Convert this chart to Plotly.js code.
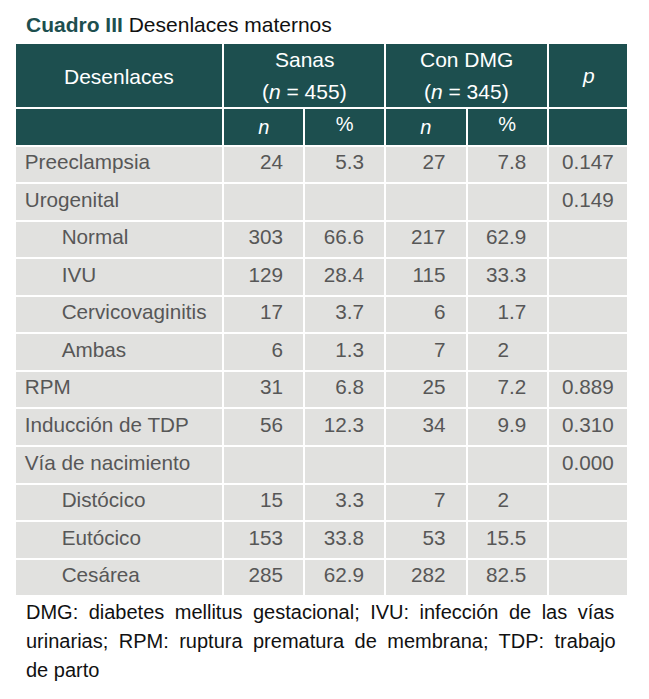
<!DOCTYPE html>
<html><head><meta charset="utf-8">
<script src="https://cdn.plot.ly/plotly-3.0.1.min.js"></script>
<style>html,body{margin:0;padding:0;background:#fff}</style>
</head><body><div id="chart" style="width:649px;height:699px"></div>
<script>
// ---- data ----
const rowLabels = ["Preeclampsia","Urogenital","Normal","IVU","Cervicovaginitis","Ambas","RPM","Inducción de TDP","Vía de nacimiento","Distócico","Eutócico","Cesárea"];
const rowLevel  = [0,0,1,1,1,1,0,0,0,1,1,1];
const groups    = ["Sanas","Con DMG"];
const groupN    = [455,345];
const sanasN    = [24,null,303,129,17,6,31,56,null,15,153,285];
const sanasPct  = [5.3,null,66.6,28.4,3.7,1.3,6.8,12.3,null,3.3,33.8,62.9];
const dmgN      = [27,null,217,115,6,7,25,34,null,7,53,282];
const dmgPct    = [7.8,null,62.9,33.3,1.7,2,7.2,9.9,null,2,15.5,82.5];
const pValues   = [0.147,0.149,null,null,null,null,0.889,0.310,0.000,null,null,null];
const subHeads  = ["", "<i>n</i>", "%", "<i>n</i>", "%", ""];
const title1 = "Cuadro III", title2 = "Desenlaces maternos";
const footLines = [
  "DMG: diabetes mellitus gestacional; IVU: infección de las vías",
  "urinarias; RPM: ruptura prematura de membrana; TDP: trabajo",
  "de parto"
];

// ---- styling / layout helpers ----
const W = 649, H = 699;
const FONT = "Liberation Sans, Arial, sans-serif";
const TEAL = "#1d4f4f", BODY = "#e1e1df", TXT = "#575757";
const X = v => v / W, Y = v => 1 - v / H;
const NB = "\u00a0", HAIR = "\u200a", THIN = "\u2009";
const padR = NB + NB + HAIR;
const numCell = v => v == null ? "" : String(v) + padR;
const pctCell = v => v == null ? "" : (Number.isInteger(v) ? String(v) + NB + NB + NB : String(v)) + padR;

const labelCol = rowLabels.map((s, i) => (rowLevel[i] ? NB.repeat(6) + THIN : HAIR) + s);
const pCol = pValues.map(v => v == null ? "" : v.toFixed(3));

const left = 15, right = 628.5;
const topHead = {
  type: "table",
  domain: {x: [X(left), X(right)], y: [Y(160), Y(42.5)]},
  columnwidth: [208.5, 162, 162.5, 80.5],
  header: {values: [" ", " ", " ", " "], height: 65, fill: {color: TEAL}, line: {color: "#ffffff", width: 2},
           font: {family: FONT, size: 20, color: TEAL}},
  cells: {values: [[" "], [" "], [" "], [" "]], height: 30, fill: {color: "rgba(255,255,255,0)"},
          line: {color: "rgba(255,255,255,0)", width: 1}, font: {family: FONT, size: 12, color: "rgba(0,0,0,0)"}}
};
const body = {
  type: "table",
  domain: {x: [X(left), X(right)], y: [0, Y(107.5)]},
  columnwidth: [208.5, 81, 81, 81.5, 81, 80.5],
  header: {
    values: subHeads, height: 35.5, align: "center",
    fill: {color: TEAL}, line: {color: "#ffffff", width: 2},
    font: {family: FONT, size: 20, color: "#ffffff"}
  },
  cells: {
    values: [labelCol, sanasN.map(numCell), sanasPct.map(pctCell), dmgN.map(numCell), dmgPct.map(pctCell), pCol],
    height: 37.56,
    align: ["left", "right", "right", "right", "right", "center"],
    fill: {color: BODY}, line: {color: "#ffffff", width: 2},
    font: {family: FONT, size: 20.7, color: TXT}
  }
};

const ann = (text, x, y, opts) => Object.assign({
  text, xref: "paper", yref: "paper", x: X(x), y: Y(y), xanchor: "center", yanchor: "middle",
  showarrow: false, font: {family: FONT, size: 21, color: "#ffffff"}
}, opts || {});

const colMid = [ (15 + 223.5) / 2, (223.5 + 385.5) / 2, (385.5 + 548) / 2, (548 + 628.5) / 2 ];
const annotations = [
  ann(`<b><span style="color:${TEAL}">${title1}</span></b> ${title2}`, 24, 24, {xanchor: "left", font: {family: FONT, size: 21, color: "#111111"}}),
  ann("Desenlaces", colMid[0], 76),
  ann(groups[0], colMid[1], 60),
  ann(`(<i>n</i> = ${groupN[0]})`, colMid[1], 91),
  ann(groups[1], colMid[2], 60),
  ann(`(<i>n</i> = ${groupN[1]})`, colMid[2], 91),
  ann("<i>p</i>", colMid[3], 75.4),
];
const footY = [612, 641, 670];
const wordSp = [4.9, 4.9, 0];
footLines.forEach((t, i) => annotations.push(ann(
  wordSp[i] ? `<span style="word-spacing:${wordSp[i]}px">${t}</span>` : t,
  24, footY[i], {xanchor: "left", font: {family: FONT, size: 20, color: "#111111"}})));

Plotly.newPlot("chart", [topHead, body], {
  width: W, height: H, margin: {l: 0, r: 0, t: 0, b: 0},
  paper_bgcolor: "#ffffff", plot_bgcolor: "#ffffff",
  annotations
}, {displayModeBar: false});
</script></body></html>
